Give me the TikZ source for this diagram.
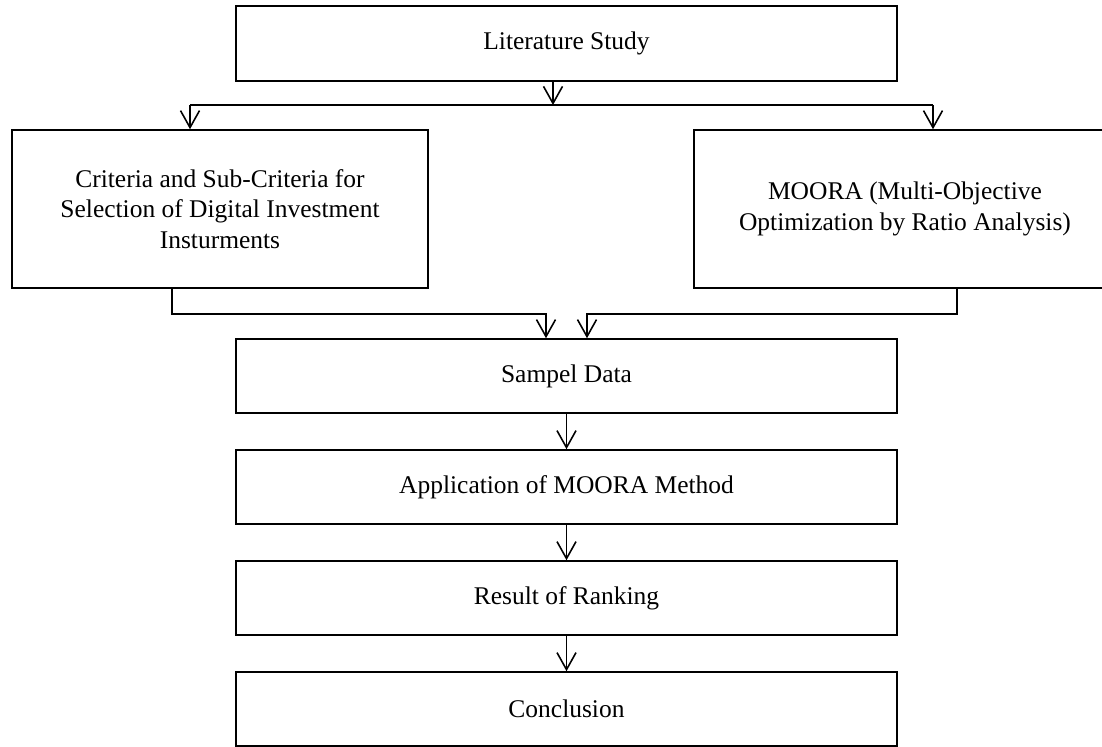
\documentclass[tikz,border=0pt]{standalone}
\usepackage{fontspec}
\setmainfont{Liberation Serif}
\usepackage{tikz}
\usetikzlibrary{arrows.meta}

\tikzset{
  stage/.style={draw, line width=0.9pt, rectangle, inner sep=0pt, align=center,
    font=\fontsize{14.5}{17.5}\selectfont},
  widestage/.style={stage, minimum width=13.22cm, minimum height=1.48cm},
  arr/.style={line width=0.9pt, -{Straight Barb[length=3.4mm,width=3.8mm]}},
  link/.style={line width=0.9pt}
}

\begin{document}
\begin{tikzpicture}[x=0.02cm, y=-0.02cm]
\clip (0,0) rectangle (1102,747);

% stages
\node[widestage, minimum height=1.5cm] (lit) at (566.5,43.5) {Literature Study};
\node[stage, minimum width=8.32cm, minimum height=3.16cm] (crit) at (220,209)
  {Criteria and Sub-Criteria for\\Selection of Digital Investment\\Insturments};
\node[stage, minimum width=8.44cm, minimum height=3.16cm] (moora) at (905,209)
  {MOORA (Multi-Objective\\Optimization by Ratio Analysis)};
\node[widestage] (sampel) at (566.5,376) {Sampel Data};
\node[widestage] (app) at (566.5,487) {Application of MOORA Method};
\node[widestage] (result) at (566.5,598) {Result of Ranking};
\node[widestage] (concl) at (566.5,709) {Conclusion};

% split after the literature study
\coordinate (split) at (553,105);
\coordinate (splitL) at (190,105);
\coordinate (splitR) at (933,105);
\draw[arr] (lit.south -| split) -- (split);
\draw[link] (splitL) -- (splitR);
\draw[arr] (splitL) -- (splitL |- crit.north);
\draw[arr] (splitR) -- (splitR |- moora.north);

% merge into the sample data
\coordinate (critdown) at (172,314);
\coordinate (mooradown) at (957,314);
\coordinate (joinL) at (546,314);
\coordinate (joinR) at (587,314);
\draw[arr] (critdown |- crit.south) -- (critdown) -- (joinL) -- (joinL |- sampel.north);
\draw[arr] (mooradown |- moora.south) -- (mooradown) -- (joinR) -- (joinR |- sampel.north);

% chain
\draw[arr] (sampel.south) -- (app.north);
\draw[arr] (app.south) -- (result.north);
\draw[arr] (result.south) -- (concl.north);
\end{tikzpicture}
\end{document}
